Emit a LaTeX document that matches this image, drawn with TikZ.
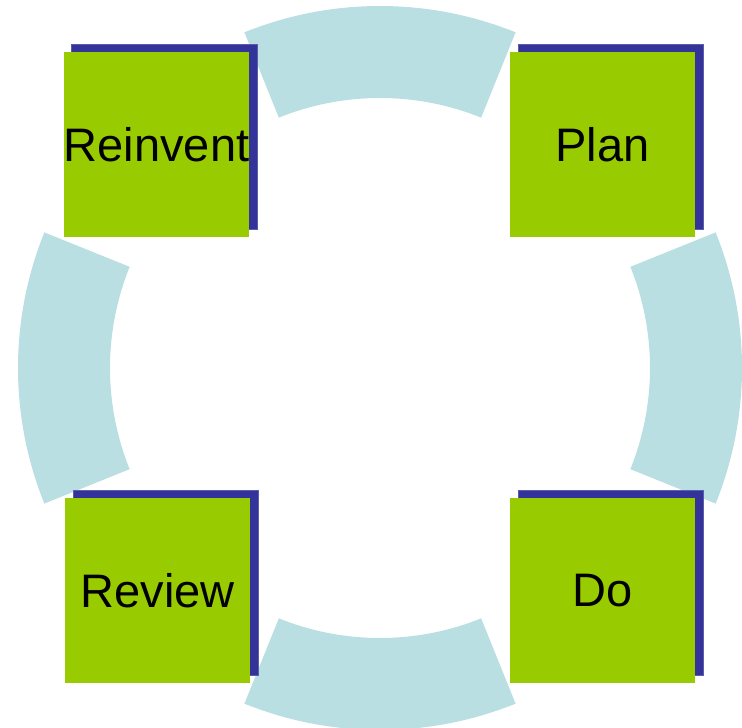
\documentclass[tikz,border=0pt]{standalone}
\usepackage{fontspec}
\setmainfont{Liberation Sans}
\usetikzlibrary{shadows}
\definecolor{ringblue}{RGB}{186,223,227}
\definecolor{leafgreen}{RGB}{153,204,0}
\definecolor{shadeblue}{RGB}{51,51,153}
\tikzset{
  stage/.style={fill=leafgreen, minimum width=185pt, minimum height=185pt,
    inner sep=0pt, font=\fontsize{47}{56}\selectfont, text=black,
    copy shadow={shadow xshift=8pt, shadow yshift=8pt, fill=shadeblue,
      draw=shadeblue!80, line width=0.8pt}},
  ringpart/.style={fill=ringblue}
}
\begin{document}
\begin{tikzpicture}[x=1pt,y=1pt]
  \useasboundingbox (0,0) rectangle (742,728);
  % four ring segments around the cycle centre
  \foreach \a in {0,90,180,270}{
    \fill[ringpart, shift={(380,360)}]
      (\a-22:362) arc[start angle=\a-22, end angle=\a+22, radius=362]
      -- (\a+22:270) arc[start angle=\a+22, end angle=\a-22, radius=270]
      -- cycle;
  }
  % stages of the cycle
  \node[stage] (reinvent) at (156.5,583.5) {Reinvent};
  \node[stage] (plan)     at (602.5,583.5) {Plan};
  \node[stage] (review)   at (157.5,137.5) {Review};
  \node[stage] (do)       at (602.5,137.5) {Do};
\end{tikzpicture}
\end{document}
